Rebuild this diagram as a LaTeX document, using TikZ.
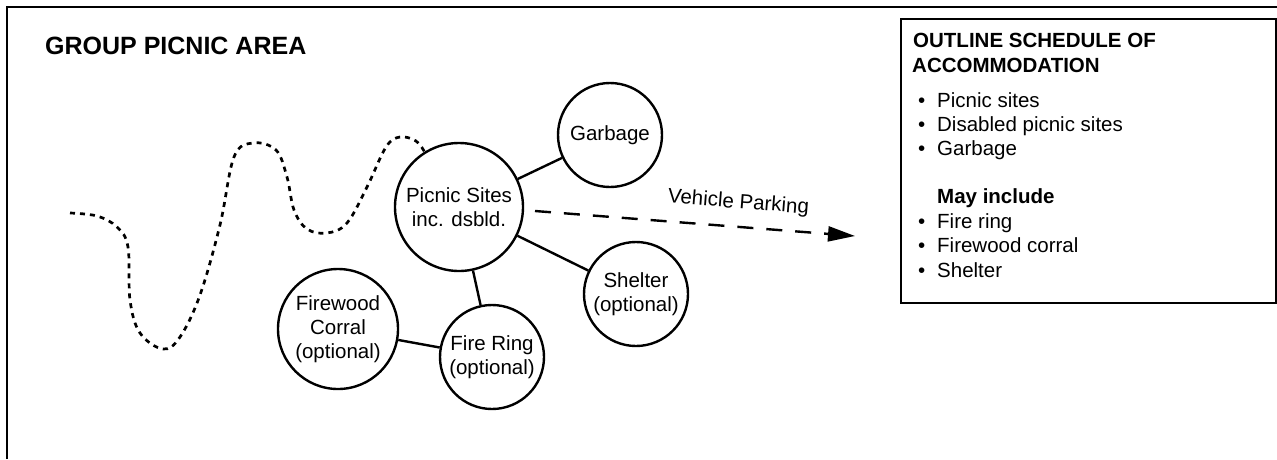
\documentclass[tikz,border=0pt]{standalone}
\usepackage{fontspec}
\setmainfont{Liberation Sans}
\usetikzlibrary{arrows.meta}

\tikzset{
  site/.style={draw, circle, line width=2.4pt, inner sep=0pt, align=center,
               font=\fontsize{20.5}{24}\selectfont},
  link/.style={line width=2.4pt},
  boundary/.style={line width=2.7pt, dash pattern=on 5pt off 5pt, line cap=butt},
  parking/.style={line width=2.4pt, dash pattern=on 16pt off 13pt,
                  -{Triangle[length=27pt,width=15pt]}},
  listtext/.style={anchor=base west, inner sep=0pt, font=\fontsize{20.5}{24}\selectfont},
  listhead/.style={listtext, font=\fontsize{20.5}{24}\selectfont\bfseries},
}

\begin{document}
\begin{tikzpicture}[x=1pt, y=-1pt]
  \useasboundingbox (0,0) rectangle (1277,459);

  % outer frame (top and left edges)
  \draw[line width=2.8pt] (7,459) -- (7,7) -- (1277,7);

  % heading
  \node[anchor=base west, inner sep=0pt, font=\fontsize{25}{30}\selectfont\bfseries]
    (title) at (45,54) {GROUP PICNIC AREA};

  % activity circles
  \node[site, minimum size=128pt] (ps) at (459,207) {Picnic Sites\\inc. dsbld.};
  \node[site, minimum size=104pt] (gb) at (610,135) {Garbage};
  \node[site, minimum size=104pt] (sh) at (636,294) {Shelter\\(optional)};
  \node[site, minimum size=104pt] (fr) at (492,357) {Fire Ring\\(optional)};
  \node[site, minimum size=120pt] (fw) at (338,329) {Firewood\\Corral\\(optional)};

  % relationships
  \draw[link] (ps) -- (gb);
  \draw[link] (ps) -- (sh);
  \draw[link] (ps) -- (fr);
  \draw[link] (fw) -- (fr);

  % site boundary
  \draw[boundary] plot[smooth, tension=0.6] coordinates {
    (70,213) (97,216) (117,227) (128,247) (130,300) (140,333) (163,349)
    (180,337) (200,295) (220,225) (234,157) (253,143) (276,150) (287,177)
    (294,210) (307,229) (327,233) (347,223) (367,187) (386,147) (400,137)
    (416,141) (ps.122)};

  % access to vehicle parking
  \coordinate (vpstart) at (535,211);
  \coordinate (vpend) at (855,236);
  \draw[parking] (vpstart) -- node[pos=0.63, sloped, above=13pt, inner sep=0pt,
      font=\fontsize{20.5}{24}\selectfont] (vplabel) {Vehicle Parking} (vpend);

  % schedule of accommodation
  \node[draw, line width=2.4pt, minimum width=375pt, minimum height=284pt,
        anchor=north west, inner sep=0pt] (sched) at (900,18) {};
  \node[listhead] (sh1) at (913,47) {OUTLINE SCHEDULE OF};
  \node[listhead] (sh2) at (912,72) {ACCOMMODATION};
  \node[listtext] (it1) at (918,107) {\makebox[19pt][l]{•}Picnic sites};
  \node[listtext] (it2) at (918,131) {\makebox[19pt][l]{•}Disabled picnic sites};
  \node[listtext] (it3) at (918,155) {\makebox[19pt][l]{•}Garbage};
  \node[listhead] (sh3) at (937,203) {May include};
  \node[listtext] (it4) at (918,228) {\makebox[19pt][l]{•}Fire ring};
  \node[listtext] (it5) at (918,252) {\makebox[19pt][l]{•}Firewood corral};
  \node[listtext] (it6) at (918,277) {\makebox[19pt][l]{•}Shelter};
\end{tikzpicture}
\end{document}
